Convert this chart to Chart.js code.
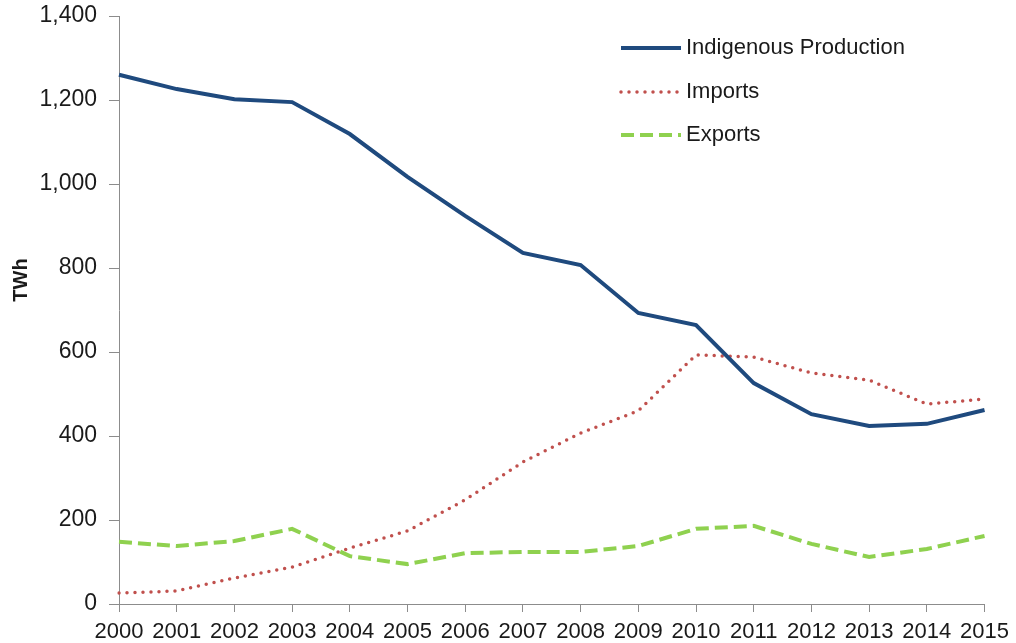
<!DOCTYPE html>
<html>
<head>
<meta charset="utf-8">
<script src="https://cdn.jsdelivr.net/npm/chart.js@4/dist/chart.umd.min.js"></script>
<style>
  html, body { margin: 0; padding: 0; background: #ffffff; }
  #wrap { width: 1016px; height: 643px; }
</style>
</head>
<body>
<div id="wrap"><canvas id="energyChart" width="1016" height="643"></canvas></div>
<script>
const years = ["2000", "2001", "2002", "2003", "2004", "2005", "2006", "2007",
  "2008", "2009", "2010", "2011", "2012", "2013", "2014", "2015"];

const indigenousProduction = [1260, 1226, 1202, 1195, 1119, 1017, 924, 836,
  807, 693, 664, 526, 452, 424, 429, 462];
const imports = [26, 31, 62, 88, 133, 174, 248, 338,
  407, 460, 593, 588, 550, 533, 476, 488];
const exportsTWh = [148, 138, 150, 179, 114, 95, 121, 124,
  124, 138, 179, 186, 143, 112, 131, 162];

const axisTitle = "TWh";
const axisColor = "#8c8c8c";
const textColor = "#1a1a1a";
const fontName = "'Liberation Sans', Arial, sans-serif";

// legend inside the plot (top right) and the rotated TWh label
const chartDecor = {
  id: "chartDecor",
  afterDraw: function (chart) {
    const ctx = chart.ctx;
    const startX = 621;
    const endX = 681;
    const rowY = [48, 92, 135];
    ctx.save();
    chart.data.datasets.forEach(function (ds, i) {
      ctx.beginPath();
      ctx.strokeStyle = ds.borderColor;
      ctx.lineWidth = ds.borderWidth;
      ctx.lineCap = ds.borderCapStyle || "butt";
      ctx.setLineDash(ds.borderDash || []);
      ctx.moveTo(startX, rowY[i]);
      ctx.lineTo(endX, rowY[i]);
      ctx.stroke();
      ctx.setLineDash([]);
      ctx.fillStyle = textColor;
      ctx.font = "22px " + fontName;
      ctx.textBaseline = "middle";
      ctx.textAlign = "left";
      ctx.fillText(ds.label, 686, rowY[i]);
    });

    ctx.translate(21, 280);
    ctx.rotate(-Math.PI / 2);
    ctx.font = "bold 20px " + fontName;
    ctx.textAlign = "center";
    ctx.textBaseline = "middle";
    ctx.fillStyle = textColor;
    ctx.fillText(axisTitle, 0, 0);
    ctx.restore();
  }
};

new Chart(document.getElementById("energyChart"), {
  type: "line",
  data: {
    labels: years,
    datasets: [
      {
        label: "Indigenous Production",
        data: indigenousProduction,
        borderColor: "#1f4a7e",
        borderWidth: 4,
        pointRadius: 0,
        tension: 0
      },
      {
        label: "Imports",
        data: imports,
        borderColor: "#c0504d",
        borderWidth: 3.5,
        borderDash: [0, 8],
        borderCapStyle: "round",
        pointRadius: 0,
        tension: 0
      },
      {
        label: "Exports",
        data: exportsTWh,
        borderColor: "#8fd14f",
        borderWidth: 4,
        borderDash: [13, 6],
        pointRadius: 0,
        tension: 0
      }
    ]
  },
  options: {
    responsive: false,
    animation: false,
    layout: { padding: { top: 16, right: 28, left: 0, bottom: 0 } },
    plugins: {
      legend: { display: false },
      tooltip: { enabled: false }
    },
    scales: {
      x: {
        grid: {
          drawOnChartArea: false,
          drawTicks: true,
          tickLength: 8,
          color: axisColor
        },
        border: { color: axisColor, width: 1 },
        ticks: {
          color: textColor,
          font: { family: fontName, size: 22 },
          padding: 7,
          maxRotation: 0,
          autoSkip: false
        },
        afterFit: function (scale) { scale.height = 39; }
      },
      y: {
        min: 0,
        max: 1400,
        grid: {
          drawOnChartArea: false,
          drawTicks: true,
          tickLength: 10,
          color: axisColor
        },
        border: { color: axisColor, width: 1 },
        ticks: {
          stepSize: 200,
          color: textColor,
          font: { family: fontName, size: 23 },
          padding: 12,
          callback: function (v) { return Number(v).toLocaleString("en-US"); }
        },
        afterFit: function (scale) {
          scale.width = 119;
          scale.paddingTop = 0;
          scale.paddingBottom = 0;
        }
      }
    }
  },
  plugins: [chartDecor]
});
</script>
</body>
</html>
